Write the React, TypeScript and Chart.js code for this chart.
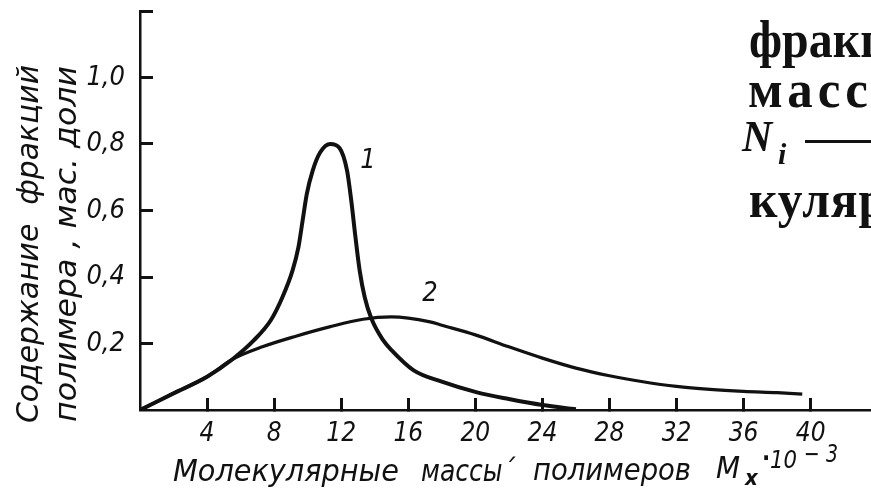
import React, { useEffect, useRef } from 'react';
import { Chart, registerables } from 'chart.js';

Chart.register(...registerables);

// ---- data ----
const curve1X = [0, 2, 4, 5.5, 6.8, 7.8, 8.5, 9.1, 9.45, 9.7, 9.95, 10.3, 10.75, 11.35, 11.9, 12.35, 12.6, 12.85, 13.1, 13.4, 13.8, 14.5, 15.0, 16.3, 18.0, 20.1, 22.0, 24.0, 26.0];
const curve1Y = [0, 0.05, 0.1, 0.152, 0.21, 0.27, 0.34, 0.42, 0.49, 0.57, 0.65, 0.72, 0.775, 0.8, 0.788, 0.72, 0.63, 0.52, 0.42, 0.34, 0.275, 0.21, 0.18, 0.12, 0.085, 0.053, 0.033, 0.015, 0.002];
const curve2X = [0, 2, 4, 5.5, 7.3, 9.3, 11.3, 13.3, 15.0, 17.3, 18.0, 20.0, 22.0, 24.0, 26.0, 28.0, 30.0, 32.0, 34.0, 36.0, 38.0, 39.5];
const curve2Y = [0, 0.05, 0.1, 0.152, 0.19, 0.222, 0.25, 0.273, 0.28, 0.265, 0.255, 0.226, 0.19, 0.156, 0.126, 0.103, 0.085, 0.071, 0.062, 0.056, 0.052, 0.048];

const seriesNames = ['1', '2'];
const seriesLabelX = [13.6, 17.3];
const seriesLabelY = [0.75, 0.35];

const xTickValues = [4, 8, 12, 16, 20, 24, 28, 32, 36, 40];
const xTickLabels = ['4', '8', '12', '16', '20', '24', '28', '32', '36', '40'];
const yTickValues = [0.2, 0.4, 0.6, 0.8, 1.0, 1.2];
const yTickLabels = ['0,2', '0,4', '0,6', '0,8', '1,0', ''];

const X_MIN = 0;
const X_MAX = 43.6;
const Y_MIN = 0;
const Y_MAX = 1.2;

const yTitleLines = ['Содержание  фракций', 'полимера , мас. доли'];
const xTitleWords = ['Молекулярные', 'массы´', 'полимеров'];
const pageTextLines = ['фракц', 'массо', 'куляр'];

const INK = '#111111';
const FAMILY = '"DejaVu Sans Condensed", "DejaVu Sans", sans-serif';

function fitText(ctx: CanvasRenderingContext2D, text: string, x: number, y: number, w: number, font: string) {
  ctx.save();
  ctx.font = font;
  ctx.textAlign = 'left';
  ctx.textBaseline = 'alphabetic';
  const m = ctx.measureText(text).width;
  ctx.translate(x, y);
  ctx.scale(w / m, 1);
  ctx.fillText(text, 0, 0);
  ctx.restore();
}

const decorPlugin = {
  id: 'decor',
  afterDraw(chart: any) {
    const { ctx, scales } = chart;
    const xs = scales.x;
    const ys = scales.y;
    ctx.save();
    ctx.fillStyle = INK;
    // curve labels
    ctx.font = `italic 27px ${FAMILY}`;
    ctx.textAlign = 'center';
    ctx.textBaseline = 'middle';
    seriesNames.forEach((n, i) => {
      ctx.fillText(n, xs.getPixelForValue(seriesLabelX[i]), ys.getPixelForValue(seriesLabelY[i]));
    });

    // y-axis title (rotated, two lines)
    const yFont = `italic 31px ${FAMILY}`;
    [[38, 423, 358], [76, 422, 356]].forEach(([bx, by, len], i) => {
      ctx.save();
      ctx.translate(bx, by);
      ctx.rotate(-Math.PI / 2);
      fitText(ctx, yTitleLines[i], 0, 0, len, yFont);
      ctx.restore();
    });

    // x-axis title
    const xFont = `italic 31px ${FAMILY}`;
    fitText(ctx, xTitleWords[0], 173, 481, 226, xFont);
    fitText(ctx, xTitleWords[1], 421, 481, 94, xFont);
    fitText(ctx, xTitleWords[2], 533, 480, 158, xFont);
    ctx.font = xFont;
    ctx.textAlign = 'left';
    ctx.textBaseline = 'alphabetic';
    ctx.fillText('M', 716, 478);
    ctx.font = `italic bold 22px ${FAMILY}`;
    ctx.fillText('x', 745, 485);
    ctx.font = `bold 24px ${FAMILY}`;
    ctx.fillText('·', 762, 466);
    fitText(ctx, '10', 770, 468, 27, `italic 25px ${FAMILY}`);
    fitText(ctx, '− 3', 804, 462, 34, `italic 25px ${FAMILY}`);

    // surrounding book text (cropped at the right edge)
    const serif = 'bold 52px "Liberation Serif", "DejaVu Serif", serif';
    const drawScaled = (t: string, x: number, y: number, sx: number, font: string, spacing = 0) => {
      ctx.save();
      ctx.font = font;
      ctx.textAlign = 'left';
      ctx.textBaseline = 'alphabetic';
      (ctx as any).letterSpacing = `${spacing}px`;
      ctx.translate(x, y);
      ctx.scale(sx, 1);
      ctx.fillText(t, 0, 0);
      ctx.restore();
    };
    drawScaled(pageTextLines[0], 749, 57, 0.92, serif, 0);
    drawScaled(pageTextLines[1], 748, 107, 0.98, serif, 5);
    drawScaled('N', 742, 151, 0.95, 'bold italic 44px "Liberation Serif", "DejaVu Serif", serif');
    drawScaled('i', 778, 164, 1, 'bold italic 30px "Liberation Serif", "DejaVu Serif", serif');
    ctx.fillRect(805, 140, 70, 3);
    drawScaled(pageTextLines[2], 749, 217, 0.95, serif, 1);
    ctx.restore();
  },
};

export default function App() {
  const ref = useRef<HTMLCanvasElement>(null);
  useEffect(() => {
    if (!ref.current) return;
    const chart = new Chart(ref.current, {
      type: 'line',
      data: {
        datasets: [
          {
            label: seriesNames[0],
            data: curve1X.map((x, i) => ({ x, y: curve1Y[i] })),
            borderColor: INK,
            borderWidth: 4,
            pointRadius: 0,
            cubicInterpolationMode: 'monotone',
            fill: false,
          },
          {
            label: seriesNames[1],
            data: curve2X.map((x, i) => ({ x, y: curve2Y[i] })),
            borderColor: INK,
            borderWidth: 3.2,
            pointRadius: 0,
            cubicInterpolationMode: 'monotone',
            fill: false,
          },
        ],
      },
      options: {
        animation: false,
        responsive: false,
        maintainAspectRatio: false,
        layout: { padding: { top: 11, left: 0, right: 0, bottom: 0 } },
        plugins: { legend: { display: false }, tooltip: { enabled: false } },
        scales: {
          x: {
            type: 'linear',
            min: X_MIN,
            max: X_MAX,
            grid: {
              display: true,
              drawOnChartArea: false,
              drawTicks: true,
              tickLength: -12,
              tickWidth: 3,
              tickColor: INK,
              color: INK,
            },
            border: { display: true, color: INK, width: 2.5 },
            afterBuildTicks: (s: any) => {
              s.ticks = xTickValues.map((v) => ({ value: v }));
            },
            afterFit: (s: any) => {
              s.height = 79;
              s.paddingLeft = 0;
              s.paddingRight = 0;
            },
            ticks: {
              padding: 21,
              color: INK,
              autoSkip: false,
              maxRotation: 0,
              font: { family: FAMILY, size: 26, style: 'italic' },
              callback: (v: any) => {
                const i = xTickValues.indexOf(Number(v));
                return i >= 0 ? xTickLabels[i] : '';
              },
            },
          },
          y: {
            type: 'linear',
            min: Y_MIN,
            max: Y_MAX,
            grid: {
              display: true,
              drawOnChartArea: false,
              drawTicks: true,
              tickLength: -13,
              tickWidth: 3,
              tickColor: INK,
              color: INK,
            },
            border: { display: true, color: INK, width: 2.5 },
            afterBuildTicks: (s: any) => {
              s.ticks = yTickValues.map((v) => ({ value: v }));
            },
            afterFit: (s: any) => {
              s.width = 140;
              s.paddingTop = 0;
              s.paddingBottom = 0;
            },
            ticks: {
              padding: 28,
              color: INK,
              autoSkip: false,
              font: { family: FAMILY, size: 27, style: 'italic' },
              callback: (v: any) => {
                const i = yTickValues.findIndex((t) => Math.abs(t - Number(v)) < 1e-6);
                return i >= 0 ? yTickLabels[i] : '';
              },
            },
          },
        },
      },
      plugins: [decorPlugin],
    } as any);
    return () => chart.destroy();
  }, []);
  return (
    <div style={{ position: 'fixed', left: 0, top: 0, width: 871, height: 489, background: '#ffffff' }}>
      <canvas ref={ref} width={871} height={489} style={{ display: 'block', width: 871, height: 489 }} />
    </div>
  );
}
